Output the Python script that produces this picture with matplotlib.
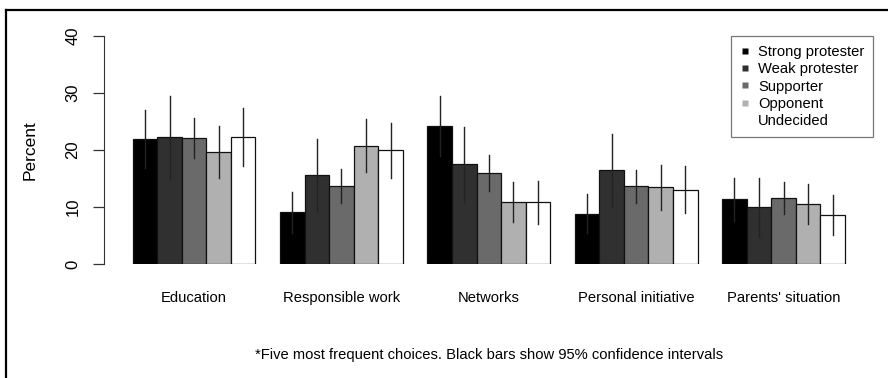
import matplotlib
matplotlib.use("Agg")
import matplotlib.pyplot as plt
from matplotlib.lines import Line2D
import numpy as np

plt.rcParams['font.family'] = ['Liberation Sans', 'DejaVu Sans']

categories = ["Education", "Responsible work", "Networks", "Personal initiative", "Parents' situation"]
series = ["Strong protester", "Weak protester", "Supporter", "Opponent", "Undecided"]
colors = ["#000000", "#303030", "#6a6a6a", "#b0b0b0", "#ffffff"]

# values[series][category]
values = [
    [22.0, 9.1, 24.2, 8.9, 11.4],
    [22.3, 15.7, 17.6, 16.6, 10.0],
    [22.2, 13.8, 16.0, 13.7, 11.7],
    [19.6, 20.8, 10.9, 13.5, 10.5],
    [22.3, 20.0, 10.9, 13.1, 8.6],
]
ci_low = [
    [16.9, 5.5, 18.9, 5.4, 7.6],
    [15.0, 9.3, 11.0, 10.1, 4.7],
    [18.6, 10.8, 12.8, 10.7, 8.9],
    [15.1, 16.2, 7.4, 9.6, 7.0],
    [17.2, 15.1, 7.1, 9.0, 5.1],
]
ci_high = [
    [27.1, 12.7, 29.5, 12.4, 15.2],
    [29.4, 22.0, 24.1, 22.9, 15.2],
    [25.7, 16.7, 19.1, 16.5, 14.5],
    [24.2, 25.4, 14.4, 17.4, 14.0],
    [27.3, 24.8, 14.6, 17.2, 12.1],
]
yticks = [0, 10, 20, 30, 40]

W, H = 888, 378
fig = plt.figure(figsize=(W / 100, H / 100), dpi=100)
ax_left = 104.2 / W
ax_w = 769.2 / W
ax_bottom = (H - 264.3) / H
ax_h = 228.3 / H
ax = fig.add_axes([ax_left, ax_bottom, ax_w, ax_h])

fs = 10.6
nser = len(series)
ncat = len(categories)
for j in range(ncat):
    start = j * (nser + 1) + 1
    for i in range(nser):
        xc = start + i + 0.5
        ax.bar(xc, values[i][j], width=1.0, color=colors[i], edgecolor="#111111", linewidth=0.9, zorder=2)
        ax.plot([xc, xc], [ci_low[i][j], ci_high[i][j]], color="#222222", linewidth=1.0, zorder=3)
    center = start + nser / 2
    ax.text(center, -5.9, categories[j], ha="center", va="center", fontsize=fs, clip_on=False)

ax.text(15.5, -15.9, "*Five most frequent choices. Black bars show 95% confidence intervals",
        ha="center", va="center", fontsize=fs, clip_on=False)

ax.set_xlim(-0.16, 31.16)
ax.set_ylim(0, 40)
for s in ["top", "right", "bottom"]:
    ax.spines[s].set_visible(False)
ax.spines["left"].set_bounds(0, 40)
ax.spines["left"].set_color("#333333")
ax.set_xticks([])
ax.set_yticks(yticks)
ax.set_yticklabels([str(t) for t in yticks], rotation=90, va="center")
ax.tick_params(axis="y", length=8, width=0.9, color="#333333", pad=9, labelsize=12)
ax.set_ylabel("Percent", fontsize=12.5, labelpad=20)
ax.patch.set_alpha(0)

handles = [Line2D([0], [0], marker="s", linestyle="none", markersize=4.5,
                  markerfacecolor=c, markeredgecolor="none") for c in colors]
leg = fig.legend(handles, series, loc="upper right",
                 bbox_to_anchor=(873.3 / W, 1 - 36 / H), bbox_transform=fig.transFigure,
                 frameon=True, fancybox=False, fontsize=fs, borderaxespad=0,
                 handlelength=0.7, handletextpad=0.55, labelspacing=0.23,
                 borderpad=0.6)
leg.get_frame().set_edgecolor("#555555")
leg.get_frame().set_linewidth(0.9)

# outer frame (cropped box)
fig.add_artist(Line2D([5.5 / W, 5.5 / W], [0, 1 - 10 / H], transform=fig.transFigure, color="black", linewidth=1.6))
fig.add_artist(Line2D([5.5 / W, 1.0], [1 - 10 / H, 1 - 10 / H], transform=fig.transFigure, color="black", linewidth=1.6))

fig.savefig("out.png", dpi=100)
